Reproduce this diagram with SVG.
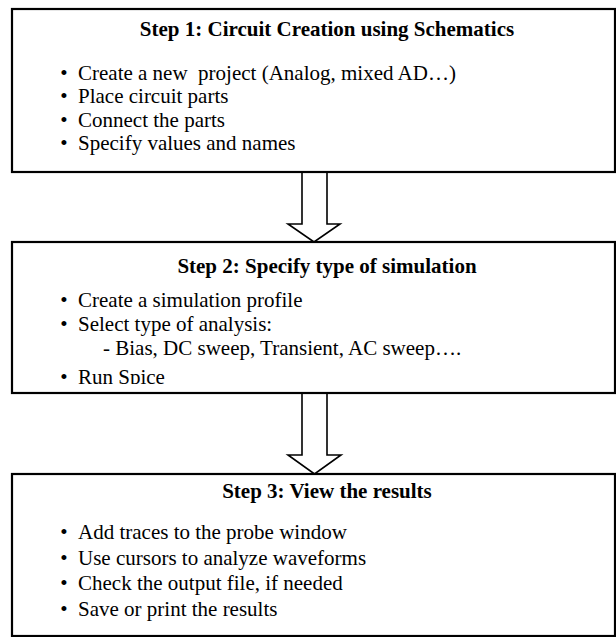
<svg xmlns="http://www.w3.org/2000/svg" width="616" height="637" viewBox="0 0 616 637">
<style>
.box{fill:#fff;stroke:#000;stroke-width:2.2}
.arrow{fill:#fff;stroke:#000;stroke-width:1.6;stroke-linejoin:miter}
.title{font-family:"Liberation Serif","Times New Roman",serif;font-size:21px;font-weight:bold;fill:#000;text-anchor:middle}
.item{font-family:"Liberation Serif","Times New Roman",serif;font-size:21px;fill:#000}
.bul{font-family:"Liberation Serif","Times New Roman",serif;font-size:21px;fill:#000;text-anchor:middle}
</style>
<defs>
<clipPath id="clip2"><rect x="12" y="242" width="603" height="142"/></clipPath>
</defs>
<rect width="616" height="637" fill="#fff"/>
<g id="connectors">
<polygon class="arrow" points="302,172 302,224 288,224 314,242 340,224 327,224 327,172"/>
<polygon class="arrow" points="302,393 302,455 288,455 314.5,474 341,455 327,455 327,393"/>
</g>
<g id="step1">
<rect class="box" x="12" y="9" width="603" height="163"/>
<text class="title" x="327" y="36">Step 1: Circuit Creation using Schematics</text>
<text class="bul" x="64" y="80">•</text><text class="item" x="78" y="80" xml:space="preserve">Create a new  project (Analog, mixed AD…)</text>
<text class="bul" x="64" y="103">•</text><text class="item" x="78" y="103">Place circuit parts</text>
<text class="bul" x="64" y="127">•</text><text class="item" x="78" y="127">Connect the parts</text>
<text class="bul" x="64" y="150">•</text><text class="item" x="78" y="150">Specify values and names</text>
</g>
<g id="step2">
<rect class="box" x="12" y="242" width="603" height="151"/>
<text class="title" x="327" y="273">Step 2: Specify type of simulation</text>
<g clip-path="url(#clip2)">
<text class="bul" x="64" y="307">•</text><text class="item" x="78" y="307">Create a simulation profile</text>
<text class="bul" x="64" y="331">•</text><text class="item" x="78" y="331">Select type of analysis:</text>
<text class="item" x="103" y="355">- Bias, DC sweep, Transient, AC sweep….</text>
<text class="bul" x="64" y="384">•</text><text class="item" x="78" y="384">Run Spice</text>
</g>
</g>
<g id="step3">
<rect class="box" x="12" y="474" width="603" height="162"/>
<text class="title" x="327" y="498">Step 3: View the results</text>
<text class="bul" x="64" y="539">•</text><text class="item" x="78" y="539">Add traces to the probe window</text>
<text class="bul" x="64" y="565">•</text><text class="item" x="78" y="565">Use cursors to analyze waveforms</text>
<text class="bul" x="64" y="590">•</text><text class="item" x="78" y="590">Check the output file, if needed</text>
<text class="bul" x="64" y="616">•</text><text class="item" x="78" y="616">Save or print the results</text>
</g>
</svg>
